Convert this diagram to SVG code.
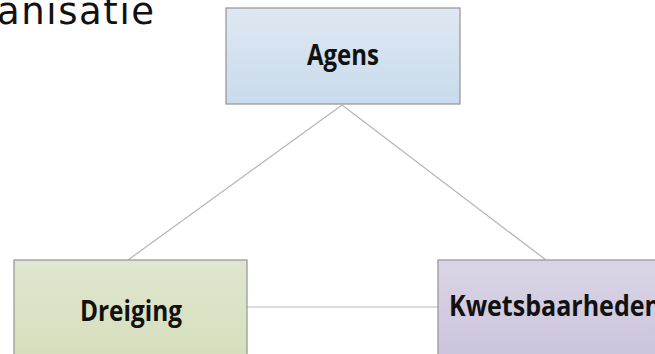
<svg xmlns="http://www.w3.org/2000/svg" width="655" height="354" viewBox="0 0 655 354">
<defs>
<linearGradient id="gBlue" x1="0" y1="0" x2="0" y2="1"><stop offset="0" stop-color="#dfe8f2"/><stop offset="1" stop-color="#c8dbec"/></linearGradient>
<linearGradient id="gGreen" x1="0" y1="0" x2="0" y2="1"><stop offset="0" stop-color="#e0e6cf"/><stop offset="1" stop-color="#d4deba"/></linearGradient>
<linearGradient id="gPurple" x1="0" y1="0" x2="0" y2="1"><stop offset="0" stop-color="#dad5e6"/><stop offset="1" stop-color="#cac1db"/></linearGradient>
</defs>
<style>
.box{stroke:#9a9a9a;stroke-width:1.3}
.lbl{font-family:"Open Sans","Liberation Sans",sans-serif;font-weight:bold;font-size:28px;fill:#111}
.conn{stroke:#b5b5b5;stroke-width:1.2;fill:none}
</style>
<rect width="655" height="354" fill="#ffffff"/>
<text x="-3" y="24" font-family="'DejaVu Sans',sans-serif" font-size="37" letter-spacing="1.6" fill="#111">anisatie</text>
<g id="connectors">
<line class="conn" x1="342" y1="105" x2="128" y2="260"/>
<line class="conn" x1="342" y1="105" x2="546" y2="260"/>
<line class="conn" x1="247" y1="307" x2="438" y2="307"/>
</g>
<g id="agens">
<rect class="box" x="226" y="8" width="234" height="96" fill="url(#gBlue)"/>
<text class="lbl" x="307" y="65" textLength="72" lengthAdjust="spacingAndGlyphs">Agens</text>
</g>
<g id="dreiging">
<rect class="box" x="14" y="260" width="233" height="110" fill="url(#gGreen)"/>
<text class="lbl" x="80" y="321" textLength="102" lengthAdjust="spacingAndGlyphs">Dreiging</text>
</g>
<g id="kwetsbaarheden">
<rect class="box" x="438" y="260" width="240" height="110" fill="url(#gPurple)"/>
<text class="lbl" x="449" y="316" textLength="212" lengthAdjust="spacingAndGlyphs">Kwetsbaarheden</text>
</g>
</svg>
